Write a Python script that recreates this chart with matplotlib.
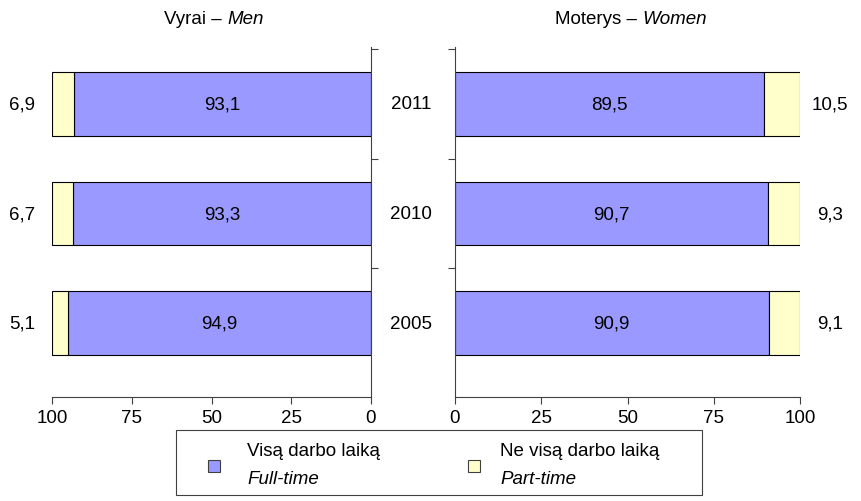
import matplotlib
matplotlib.use("Agg")
import matplotlib.pyplot as plt
from matplotlib.patches import Rectangle

plt.rcParams['font.family'] = ['Liberation Sans', 'DejaVu Sans']

years = ['2005', '2010', '2011']
men_full = [94.9, 93.3, 93.1]
men_part = [5.1, 6.7, 6.9]
women_full = [90.9, 90.7, 89.5]
women_part = [9.1, 9.3, 10.5]
xticks = [0, 25, 50, 75, 100]

c_full = '#9999FF'
c_part = '#FFFFCC'
fs = 13.5

W, H = 862, 502
fig = plt.figure(figsize=(W / 100, H / 100), dpi=100)

def fx(px):
    return px / W

def fy(py):
    return 1 - py / H

bottom = fy(398)
top = fy(48)
axL = fig.add_axes([fx(52), bottom, fx(371) - fx(52), top - bottom])
axR = fig.add_axes([fx(455), bottom, fx(800) - fx(455), top - bottom])

ypos = list(range(len(years)))
bh = 0.58

for ax, full, part, side in [(axL, men_full, men_part, 'L'), (axR, women_full, women_part, 'R')]:
    ax.barh(ypos, full, height=bh, color=c_full, edgecolor='black', linewidth=0.8)
    ax.barh(ypos, part, left=full, height=bh, color=c_part, edgecolor='black', linewidth=0.8)
    ax.set_xlim(0, 100)
    ax.set_ylim(-0.675, 2.52)
    for y, f, p in zip(ypos, full, part):
        ax.text(f / 2, y, f"{f:.1f}".replace('.', ','), ha='center', va='center', fontsize=fs)
        if side == 'L':
            ax.text(109.4, y, f"{p:.1f}".replace('.', ','), ha='center', va='center', fontsize=fs)
        else:
            ax.text(108.7, y, f"{p:.1f}".replace('.', ','), ha='center', va='center', fontsize=fs)
    ax.set_xticks(xticks)
    ax.set_xticklabels([str(t) for t in xticks], fontsize=fs)
    ax.tick_params(axis='x', direction='out', length=5, width=0.8, color='#404040', pad=4)
    ax.set_yticks([0.5, 1.5, 2.5])
    ax.set_yticklabels([])
    ax.tick_params(axis='y', direction='out', length=5, width=0.8, color='#404040')
    ax.spines['top'].set_visible(False)
    for s in ax.spines.values():
        s.set_color('#404040')
        s.set_linewidth(0.8)

axL.invert_xaxis()
axL.spines['left'].set_visible(False)
axL.yaxis.tick_right()
axR.spines['right'].set_visible(False)
axR.yaxis.tick_left()

fig.text(fx(227), fy(20), 'Vyrai – ', ha='right', va='center', fontsize=fs)
fig.text(fx(227), fy(20), 'Men', ha='left', va='center', fontsize=fs, style='italic')
fig.text(fx(642), fy(20), 'Moterys – ', ha='right', va='center', fontsize=fs)
fig.text(fx(642), fy(20), 'Women', ha='left', va='center', fontsize=fs, style='italic')

for y, yr in zip(ypos, years):
    disp = axL.transData.transform((0, y))
    yf = fig.transFigure.inverted().transform(disp)[1]
    fig.text(fx(411), yf, yr, ha='center', va='center', fontsize=fs)

# legend box
fig.patches.append(Rectangle((fx(176), fy(496)), fx(702) - fx(176), fy(431) - fy(496),
                             transform=fig.transFigure, fill=False, edgecolor='#404040', linewidth=0.8))
sq = 12
fig.patches.append(Rectangle((fx(208), fy(473)), sq / W, sq / H, transform=fig.transFigure,
                             facecolor=c_full, edgecolor='#404040', linewidth=0.8))
fig.patches.append(Rectangle((fx(468), fy(473)), sq / W, sq / H, transform=fig.transFigure,
                             facecolor=c_part, edgecolor='#404040', linewidth=0.8))
fig.text(fx(247), fy(452), 'Visą darbo laiką', ha='left', va='center', fontsize=fs)
fig.text(fx(247), fy(480), 'Full-time', ha='left', va='center', fontsize=fs, style='italic')
fig.text(fx(500), fy(452), 'Ne visą darbo laiką', ha='left', va='center', fontsize=fs)
fig.text(fx(500), fy(480), 'Part-time', ha='left', va='center', fontsize=fs, style='italic')

fig.savefig('out.png', dpi=100)
